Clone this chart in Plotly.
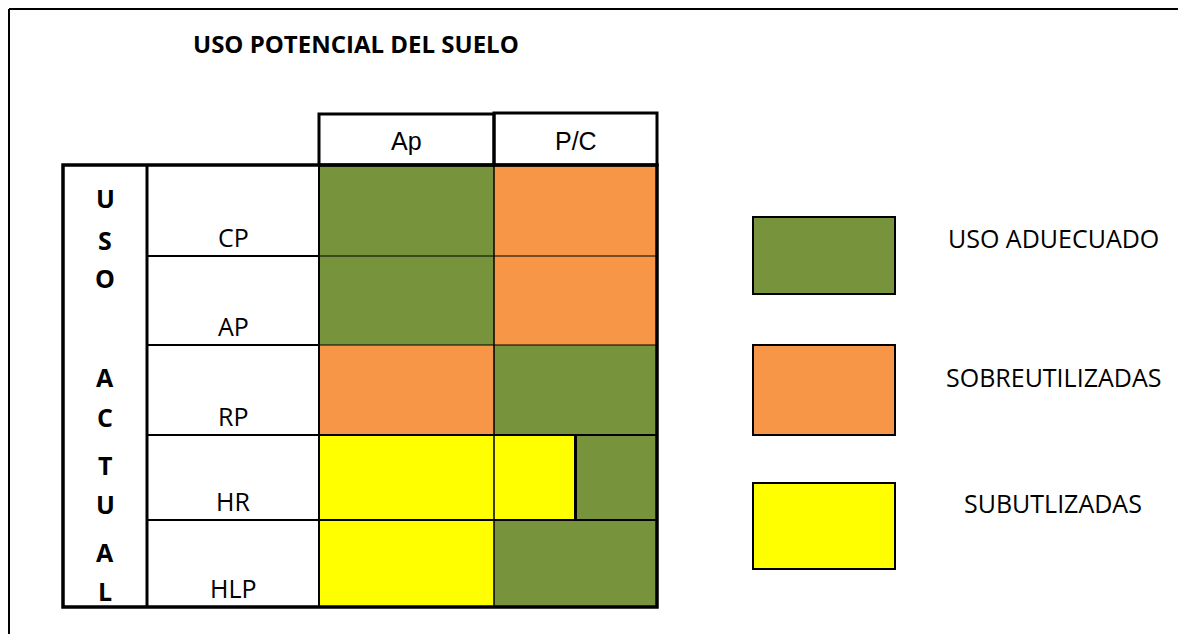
import plotly.graph_objects as go

# ---------------- data ----------------
title_text = "USO POTENCIAL DEL SUELO"
columns = ["Ap", "P/C"]
rows = ["CP", "AP", "RP", "HR", "HLP"]
# class of each cell, per column (a list means the cell is split in equal parts)
ap_class = [["ADE"], ["ADE"], ["SOB"], ["SUB"], ["SUB"]]
pc_class = [["SOB"], ["SOB"], ["ADE"], ["SUB", "ADE"], ["ADE"]]
legend_keys = ["ADE", "SOB", "SUB"]
legend_labels = ["USO ADUECUADO", "SOBREUTILIZADAS", "SUBUTLIZADAS"]
side_label = "USO ACTUAL"

# ---------------- styles / layout ----------------
W, H = 1186, 634
OFF = 8  # page body margin
COLORS = {"ADE": "#77933C", "SOB": "#F79646", "SUB": "#FFFF00"}
BODY_FONT = "Open Sans"
HEAD_FONT = "Liberation Sans"

frame_pos = 9
tbl_left, tbl_top, tbl_bottom = 63, 165, 607
side_right = 147
col_edges = [319, 494, 657]
row_edges = [165, 256, 345, 435, 520, 607]
head_top = 114
side_letter_y = [198, 240, 278, None, 377, 417, 465, 504, 552, 591]
legend_box_x = (753, 895)
legend_box_y = [(217, 294), (345, 435), (483, 569)]
legend_text_x = 1053
legend_text_y = [238, 377, 503]

shapes = []
annotations = []

def rect(x0, y0, x1, y1, fill="rgba(0,0,0,0)", lw=2, lc="black"):
    shapes.append(dict(type="rect", xref="x", yref="y", x0=x0, y0=y0, x1=x1, y1=y1,
                       fillcolor=fill, line=dict(color=lc, width=lw), layer="above"))

def line(x0, y0, x1, y1, lw=2):
    shapes.append(dict(type="line", xref="x", yref="y", x0=x0, y0=y0, x1=x1, y1=y1,
                       line=dict(color="black", width=lw), layer="above"))

def text(x, y, s, size, family=BODY_FONT, bold=False, xanchor="center"):
    annotations.append(dict(x=x, y=y, xref="x", yref="y", text=("<b>%s</b>" % s) if bold else s,
                            showarrow=False, xanchor=xanchor, yanchor="middle",
                            font=dict(family=family, size=size, color="black")))

# outer frame (top and left only visible)
line(frame_pos, frame_pos, W + 5, frame_pos, lw=2)
line(frame_pos, frame_pos, frame_pos, H + 5, lw=2)

# title
text(191, 43, title_text, 24, bold=True, xanchor="left")

# colored cells
for ci, classes in enumerate([ap_class, pc_class]):
    x0, x1 = col_edges[ci], col_edges[ci + 1]
    for ri, parts in enumerate(classes):
        y0, y1 = row_edges[ri], row_edges[ri + 1]
        n = len(parts)
        for k, cls in enumerate(parts):
            px0 = x0 + (x1 - x0) * k / n
            px1 = x0 + (x1 - x0) * (k + 1) / n
            shapes.append(dict(type="rect", xref="x", yref="y", x0=px0, y0=y0, x1=px1, y1=y1,
                               fillcolor=COLORS[cls], line=dict(width=0), layer="below"))
            if k > 0:
                line(px0, y0, px0, y1, lw=3)

# row lines
for ri, y in enumerate(row_edges[1:-1]):
    line(side_right, y, col_edges[0], y, lw=2)
    line(col_edges[0], y, col_edges[-1], y, lw=1 if ri < 2 else 2)

# column dividers
line(side_right, tbl_top, side_right, tbl_bottom, lw=3)
line(col_edges[0], tbl_top, col_edges[0], tbl_bottom, lw=2)
line(col_edges[1], tbl_top, col_edges[1], tbl_bottom, lw=1.5)

# table border
rect(tbl_left, tbl_top, col_edges[-1], tbl_bottom, lw=3.5)

# header cells
for ci, name in enumerate(columns):
    x0, x1 = col_edges[ci], col_edges[ci + 1]
    rect(x0, head_top - ci, x1, tbl_top, lw=3)
    text((x0 + x1) / 2, 141, name, 25, family=HEAD_FONT)

# row labels
for ri, name in enumerate(rows):
    text((side_right + col_edges[0]) / 2, row_edges[ri + 1] - 19, name, 25)

# side vertical label
letters = [c for c in side_label]
for ch, y in zip(letters, side_letter_y):
    if ch.strip() and y is not None:
        text(105, y, ch, 25, bold=True)

# legend
for i, key in enumerate(legend_keys):
    y0, y1 = legend_box_y[i]
    rect(legend_box_x[0], y0, legend_box_x[1], y1, fill=COLORS[key], lw=2)
    text(legend_text_x, legend_text_y[i], legend_labels[i], 25)

fig = go.Figure()
fig.add_trace(go.Scatter(x=[OFF, W], y=[OFF, H], mode="markers", marker=dict(opacity=0),
                         hoverinfo="skip", showlegend=False))
fig.update_layout(
    width=W - OFF, height=H - OFF, margin=dict(l=0, r=0, t=0, b=0),
    paper_bgcolor="white", plot_bgcolor="white",
    xaxis=dict(range=[OFF, W], visible=False, fixedrange=True),
    yaxis=dict(range=[H, OFF], visible=False, fixedrange=True),
    shapes=shapes, annotations=annotations, showlegend=False,
)
fig.write_html("out.html")
